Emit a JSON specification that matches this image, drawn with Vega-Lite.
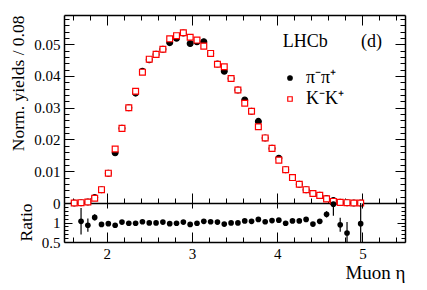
{
  "$schema": "https://vega.github.io/schema/vega-lite/v6.json",
  "background": "white",
  "padding": {"left": 9, "top": 14, "right": 22, "bottom": 5},
  "spacing": 0,
  "bounds": "flush",
  "config": {
    "view": {"stroke": null},
    "font": "Liberation Serif",
    "style": {
      "guide-label": {"font": "Liberation Serif", "fill": "black"},
      "guide-title": {"font": "Liberation Serif", "fill": "black", "fontWeight": "normal"}
    },
    "axis": {
      "domainColor": "black", "domainWidth": 1.5, "tickColor": "black", "tickWidth": 1,
      "labelFont": "Liberation Serif", "labelFontSize": 15, "labelColor": "black",
      "titleFont": "Liberation Serif", "titleFontWeight": "normal", "titleFontSize": 17.5, "titleColor": "black",
      "grid": false
    },
    "legend": {"labelFont": "Liberation Serif", "titleFont": "Liberation Serif"}
  },
  "datasets": {
    "main": [
      {"eta":1.62,"s":"π⁻π⁺","y":0.0000},{"eta":1.70,"s":"π⁻π⁺","y":0.0001},{"eta":1.78,"s":"π⁻π⁺","y":0.0003},{"eta":1.86,"s":"π⁻π⁺","y":0.0017},
      {"eta":1.94,"s":"π⁻π⁺","y":0.0042},{"eta":2.02,"s":"π⁻π⁺","y":0.0094},{"eta":2.10,"s":"π⁻π⁺","y":0.0158},{"eta":2.18,"s":"π⁻π⁺","y":0.0235},
      {"eta":2.26,"s":"π⁻π⁺","y":0.0300},{"eta":2.34,"s":"π⁻π⁺","y":0.0346},{"eta":2.42,"s":"π⁻π⁺","y":0.0415},{"eta":2.50,"s":"π⁻π⁺","y":0.0451},
      {"eta":2.58,"s":"π⁻π⁺","y":0.0468},{"eta":2.66,"s":"π⁻π⁺","y":0.0484},{"eta":2.74,"s":"π⁻π⁺","y":0.0505},{"eta":2.82,"s":"π⁻π⁺","y":0.0519},
      {"eta":2.90,"s":"π⁻π⁺","y":0.0535},{"eta":2.98,"s":"π⁻π⁺","y":0.0502},{"eta":3.06,"s":"π⁻π⁺","y":0.0508},{"eta":3.14,"s":"π⁻π⁺","y":0.0508},
      {"eta":3.22,"s":"π⁻π⁺","y":0.0471},{"eta":3.30,"s":"π⁻π⁺","y":0.0438},{"eta":3.38,"s":"π⁻π⁺","y":0.0415},{"eta":3.46,"s":"π⁻π⁺","y":0.0392},
      {"eta":3.54,"s":"π⁻π⁺","y":0.0356},{"eta":3.62,"s":"π⁻π⁺","y":0.0324},{"eta":3.70,"s":"π⁻π⁺","y":0.0289},{"eta":3.78,"s":"π⁻π⁺","y":0.0257},
      {"eta":3.86,"s":"π⁻π⁺","y":0.0205},{"eta":3.94,"s":"π⁻π⁺","y":0.0172},{"eta":4.02,"s":"π⁻π⁺","y":0.0141},{"eta":4.10,"s":"π⁻π⁺","y":0.0105},
      {"eta":4.18,"s":"π⁻π⁺","y":0.0080},{"eta":4.26,"s":"π⁻π⁺","y":0.0059},{"eta":4.34,"s":"π⁻π⁺","y":0.0042},{"eta":4.42,"s":"π⁻π⁺","y":0.0030},
      {"eta":4.50,"s":"π⁻π⁺","y":0.0024},{"eta":4.58,"s":"π⁻π⁺","y":0.0014},{"eta":4.66,"s":"π⁻π⁺","y":0.0008},{"eta":4.74,"s":"π⁻π⁺","y":0.0002},
      {"eta":4.82,"s":"π⁻π⁺","y":0.0001},{"eta":4.90,"s":"π⁻π⁺","y":0.0000},{"eta":4.98,"s":"π⁻π⁺","y":0.0000},
      {"eta":1.62,"s":"K⁻K⁺","y":0.0000},{"eta":1.70,"s":"K⁻K⁺","y":0.0001},{"eta":1.78,"s":"K⁻K⁺","y":0.0003},{"eta":1.86,"s":"K⁻K⁺","y":0.0015},
      {"eta":1.94,"s":"K⁻K⁺","y":0.0042},{"eta":2.02,"s":"K⁻K⁺","y":0.0094},{"eta":2.10,"s":"K⁻K⁺","y":0.0170},{"eta":2.18,"s":"K⁻K⁺","y":0.0235},
      {"eta":2.26,"s":"K⁻K⁺","y":0.0300},{"eta":2.34,"s":"K⁻K⁺","y":0.0352},{"eta":2.42,"s":"K⁻K⁺","y":0.0412},{"eta":2.50,"s":"K⁻K⁺","y":0.0453},
      {"eta":2.58,"s":"K⁻K⁺","y":0.0468},{"eta":2.66,"s":"K⁻K⁺","y":0.0484},{"eta":2.74,"s":"K⁻K⁺","y":0.0517},{"eta":2.82,"s":"K⁻K⁺","y":0.0527},
      {"eta":2.90,"s":"K⁻K⁺","y":0.0536},{"eta":2.98,"s":"K⁻K⁺","y":0.0522},{"eta":3.06,"s":"K⁻K⁺","y":0.0513},{"eta":3.14,"s":"K⁻K⁺","y":0.0494},
      {"eta":3.22,"s":"K⁻K⁺","y":0.0471},{"eta":3.30,"s":"K⁻K⁺","y":0.0437},{"eta":3.38,"s":"K⁻K⁺","y":0.0429},{"eta":3.46,"s":"K⁻K⁺","y":0.0392},
      {"eta":3.54,"s":"K⁻K⁺","y":0.0356},{"eta":3.62,"s":"K⁻K⁺","y":0.0314},{"eta":3.70,"s":"K⁻K⁺","y":0.0289},{"eta":3.78,"s":"K⁻K⁺","y":0.0240},
      {"eta":3.86,"s":"K⁻K⁺","y":0.0205},{"eta":3.94,"s":"K⁻K⁺","y":0.0172},{"eta":4.02,"s":"K⁻K⁺","y":0.0135},{"eta":4.10,"s":"K⁻K⁺","y":0.0105},
      {"eta":4.18,"s":"K⁻K⁺","y":0.0080},{"eta":4.26,"s":"K⁻K⁺","y":0.0059},{"eta":4.34,"s":"K⁻K⁺","y":0.0042},{"eta":4.42,"s":"K⁻K⁺","y":0.0030},
      {"eta":4.50,"s":"K⁻K⁺","y":0.0024},{"eta":4.58,"s":"K⁻K⁺","y":0.0013},{"eta":4.66,"s":"K⁻K⁺","y":0.0005},{"eta":4.74,"s":"K⁻K⁺","y":0.0002},
      {"eta":4.82,"s":"K⁻K⁺","y":0.0001},{"eta":4.90,"s":"K⁻K⁺","y":0.0000},{"eta":4.98,"s":"K⁻K⁺","y":0.0000}
    ],
    "ratio": [
      {"eta":1.70,"r":1.03,"lo":0.69,"hi":1.37},{"eta":1.78,"r":0.93,"lo":0.76,"hi":1.10},{"eta":1.86,"r":1.13,"lo":1.05,"hi":1.21},
      {"eta":1.94,"r":0.95,"lo":0.91,"hi":0.99},{"eta":2.02,"r":0.97,"lo":0.945,"hi":0.995},{"eta":2.10,"r":0.93,"lo":0.91,"hi":0.95},
      {"eta":2.18,"r":1.01,"lo":0.995,"hi":1.025},{"eta":2.26,"r":0.98,"lo":0.965,"hi":0.995},{"eta":2.34,"r":0.98,"lo":0.965,"hi":0.995},
      {"eta":2.42,"r":1.02,"lo":1.005,"hi":1.035},{"eta":2.50,"r":0.99,"lo":0.975,"hi":1.005},{"eta":2.58,"r":0.99,"lo":0.975,"hi":1.005},
      {"eta":2.66,"r":1.01,"lo":0.995,"hi":1.025},{"eta":2.74,"r":0.97,"lo":0.955,"hi":0.985},{"eta":2.82,"r":0.98,"lo":0.965,"hi":0.995},
      {"eta":2.90,"r":1.01,"lo":0.995,"hi":1.025},{"eta":2.98,"r":0.95,"lo":0.935,"hi":0.965},{"eta":3.06,"r":0.98,"lo":0.965,"hi":0.995},
      {"eta":3.14,"r":1.03,"lo":1.015,"hi":1.045},{"eta":3.22,"r":1.02,"lo":1.005,"hi":1.035},{"eta":3.30,"r":1.01,"lo":0.995,"hi":1.025},
      {"eta":3.38,"r":0.96,"lo":0.945,"hi":0.975},{"eta":3.46,"r":0.99,"lo":0.975,"hi":1.005},{"eta":3.54,"r":0.99,"lo":0.975,"hi":1.005},
      {"eta":3.62,"r":1.04,"lo":1.025,"hi":1.055},{"eta":3.70,"r":1.03,"lo":1.015,"hi":1.045},{"eta":3.78,"r":1.08,"lo":1.06,"hi":1.10},
      {"eta":3.86,"r":1.02,"lo":1.0,"hi":1.04},{"eta":3.94,"r":1.05,"lo":1.03,"hi":1.07},{"eta":4.02,"r":1.06,"lo":1.04,"hi":1.08},
      {"eta":4.10,"r":0.98,"lo":0.955,"hi":1.005},{"eta":4.18,"r":1.04,"lo":1.01,"hi":1.07},{"eta":4.26,"r":1.04,"lo":1.01,"hi":1.07},
      {"eta":4.34,"r":1.08,"lo":1.045,"hi":1.115},{"eta":4.42,"r":0.96,"lo":0.92,"hi":1.0},{"eta":4.50,"r":1.03,"lo":0.98,"hi":1.08},
      {"eta":4.58,"r":1.21,"lo":1.13,"hi":1.29},{"eta":4.66,"r":1.47,"lo":1.17,"hi":1.77},{"eta":4.74,"r":0.94,"lo":0.76,"hi":1.12},
      {"eta":4.82,"r":0.73,"lo":0.45,"hi":1.01},{"eta":4.98,"r":0.97,"lo":0.0,"hi":2.0}
    ]
  },
  "vconcat": [
    {
      "width": 341, "height": 188,
      "data": {"name": "main"},
      "resolve": {"axis": {"x": "independent", "y": "independent"}},
      "layer": [
        {
          "mark": {"type": "point", "filled": false, "size": 34, "strokeWidth": 1.2, "opacity": 1},
          "encoding": {
            "x": {"field": "eta", "type": "quantitative", "scale": {"domain": [1.5, 5.5], "nice": false, "zero": false},
                  "axis": {"orient": "bottom", "values": [2, 3, 4, 5], "tickSize": -10, "labels": false, "title": null}},
            "y": {"field": "y", "type": "quantitative", "scale": {"domain": [0, 0.0592], "nice": false},
                  "axis": {"orient": "left", "values": [0, 0.01, 0.02, 0.03, 0.04, 0.05], "format": "~g", "tickSize": -10, "labelPadding": 14,
                           "labelFont": "Liberation Serif", "titleFont": "Liberation Serif",
                           "title": "Norm. yields / 0.08", "titleAnchor": "end", "titlePadding": 6}},
            "shape": {"field": "s", "type": "nominal", "scale": {"domain": ["π⁻π⁺", "K⁻K⁺"], "range": ["circle", "square"]},
                      "legend": {"orient": "none", "legendX": 217, "legendY": 54, "title": null, "labelFontSize": 18, "labelFont": "Liberation Serif", "labelColor": "black", "symbolSize": 20, "rowPadding": 3, "labelOffset": 7, "symbolStrokeWidth": 1.2}},
            "fill": {"field": "s", "type": "nominal", "scale": {"domain": ["π⁻π⁺", "K⁻K⁺"], "range": ["black", "white"]}},
            "stroke": {"field": "s", "type": "nominal", "scale": {"domain": ["π⁻π⁺", "K⁻K⁺"], "range": ["black", "#ff0000"]}}
          }
        },
        {
          "mark": {"type": "point", "opacity": 0},
          "encoding": {
            "x": {"field": "eta", "type": "quantitative", "axis": {"orient": "bottom", "values": [1.6,1.8,2.2,2.4,2.6,2.8,3.2,3.4,3.6,3.8,4.2,4.4,4.6,4.8,5.2,5.4], "tickSize": -5, "labels": false, "title": null, "domain": false}},
            "y": {"field": "y", "type": "quantitative", "axis": {"orient": "left", "values": [0.002,0.004,0.006,0.008,0.012,0.014,0.016,0.018,0.022,0.024,0.026,0.028,0.032,0.034,0.036,0.038,0.042,0.044,0.046,0.048,0.052,0.054,0.056,0.058], "tickSize": -5, "labels": false, "title": null, "domain": false}}
          }
        },
        {
          "mark": {"type": "point", "opacity": 0},
          "encoding": {
            "x": {"field": "eta", "type": "quantitative", "axis": {"orient": "top", "values": [2, 3, 4, 5], "tickSize": -10, "labels": false, "title": null}},
            "y": {"field": "y", "type": "quantitative", "axis": {"orient": "right", "values": [0, 0.01, 0.02, 0.03, 0.04, 0.05], "tickSize": -10, "labels": false, "title": null}}
          }
        },
        {
          "mark": {"type": "point", "opacity": 0},
          "encoding": {
            "x": {"field": "eta", "type": "quantitative", "axis": {"orient": "top", "values": [1.6,1.8,2.2,2.4,2.6,2.8,3.2,3.4,3.6,3.8,4.2,4.4,4.6,4.8,5.2,5.4], "tickSize": -5, "labels": false, "title": null, "domain": false}},
            "y": {"field": "y", "type": "quantitative", "axis": {"orient": "right", "values": [0.002,0.004,0.006,0.008,0.012,0.014,0.016,0.018,0.022,0.024,0.026,0.028,0.032,0.034,0.036,0.038,0.042,0.044,0.046,0.048,0.052,0.054,0.056,0.058], "tickSize": -5, "labels": false, "title": null, "domain": false}}
          }
        },
        {
          "data": {"values": [{"label": "LHCb"}]},
          "mark": {"type": "text", "fontSize": 18, "font": "Liberation Serif", "align": "center", "baseline": "alphabetic", "color": "black"},
          "encoding": {"text": {"field": "label"}, "x": {"datum": 4.33, "axis": null}, "y": {"datum": 0.049, "axis": null}}
        },
        {
          "data": {"values": [{"label": "(d)"}]},
          "mark": {"type": "text", "fontSize": 18, "font": "Liberation Serif", "align": "center", "baseline": "alphabetic", "color": "black"},
          "encoding": {"text": {"field": "label"}, "x": {"datum": 5.107, "axis": null}, "y": {"datum": 0.049, "axis": null}}
        }
      ]
    },
    {
      "width": 341, "height": 39,
      "data": {"name": "ratio"},
      "resolve": {"axis": {"x": "independent", "y": "independent"}},
      "layer": [
        {
          "mark": {"type": "rule", "color": "black", "strokeWidth": 1.2, "clip": true},
          "encoding": {
            "x": {"field": "eta", "type": "quantitative", "scale": {"domain": [1.5, 5.5], "nice": false, "zero": false},
                  "axis": {"orient": "bottom", "values": [1.6,1.8,2.2,2.4,2.6,2.8,3.2,3.4,3.6,3.8,4.2,4.4,4.6,4.8,5.2,5.4], "tickSize": -5, "labels": false, "title": null, "domain": false}},
            "y": {"field": "lo", "type": "quantitative", "scale": {"domain": [0.5, 1.5], "nice": false, "zero": false},
                  "axis": {"orient": "left", "values": [0.6,0.7,0.8,0.9,1.1,1.2,1.3,1.4], "tickSize": -4, "labels": false, "title": null, "domain": false}},
            "y2": {"field": "hi"}
          }
        },
        {
          "mark": {"type": "point", "filled": true, "size": 32, "color": "black", "opacity": 1},
          "encoding": {
            "x": {"field": "eta", "type": "quantitative",
                  "axis": {"orient": "bottom", "values": [2, 3, 4, 5], "tickSize": -10, "labelPadding": 14, "labelFont": "Liberation Serif", "titleFont": "Liberation Serif", "titleFontSize": 19,
                           "title": "Muon η", "titleAnchor": "end", "titlePadding": 2}},
            "y": {"field": "r", "type": "quantitative",
                  "axis": {"orient": "left", "values": [0.5, 1], "format": "~g", "tickSize": -8, "labelPadding": 12, "labelFont": "Liberation Serif", "titleFont": "Liberation Serif",
                           "title": "Ratio", "titleAnchor": "end", "titlePadding": 6}}
          }
        },
        {
          "mark": {"type": "point", "opacity": 0},
          "encoding": {
            "x": {"field": "eta", "type": "quantitative", "axis": {"orient": "top", "values": [2, 3, 4, 5], "tickSize": -5, "labels": false, "title": null, "domain": false}},
            "y": {"field": "r", "type": "quantitative", "axis": {"orient": "right", "values": [0.5, 1, 1.5], "tickSize": -8, "labels": false, "title": null}}
          }
        },
        {
          "mark": {"type": "point", "opacity": 0},
          "encoding": {
            "x": {"field": "eta", "type": "quantitative", "axis": null},
            "y": {"field": "r", "type": "quantitative", "axis": {"orient": "right", "values": [0.6,0.7,0.8,0.9,1.1,1.2,1.3,1.4], "tickSize": -4, "labels": false, "title": null, "domain": false}}
          }
        }
      ]
    }
  ]
}
